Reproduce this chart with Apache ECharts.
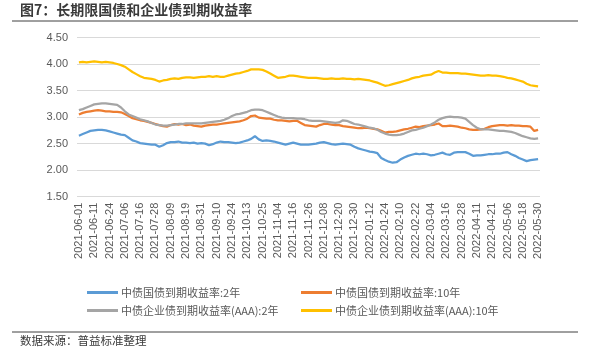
<!DOCTYPE html>
<html>
<head>
<meta charset="utf-8">
<script src="https://cdn.jsdelivr.net/npm/echarts@6/dist/echarts.min.js"></script>
<style>html,body{margin:0;padding:0;background:#fff}#c{width:590px;height:359px}</style>
</head>
<body>
<div id="c"></div>
<script>
// Exchange trading calendar: first/last day and weekday closures
var startDate = '2021-06-01';
var endDate = '2022-05-30';
var holidays = ['2021-06-14','2021-09-20','2021-09-21','2021-10-01','2021-10-04','2021-10-05','2021-10-06','2021-10-07',
  '2022-01-03','2022-01-31','2022-02-01','2022-02-02','2022-02-03','2022-02-04','2022-04-04','2022-04-05',
  '2022-05-02','2022-05-03','2022-05-04'];
var sampleStep = 2;       // one value every 2 trading days
var labelEvery = 4;       // one label every 4 samples (8 trading days)

var seriesNames = ['中债国债到期收益率:2年','中债国债到期收益率:10年','中债企业债到期收益率(AAA):2年','中债企业债到期收益率(AAA):10年'];

var gov2y = [2.65,2.68,2.71,2.74,2.75,2.76,2.76,2.75,2.73,2.71,2.69,2.67,2.66,2.61,2.56,2.54,2.51,2.50,2.49,2.48,
  2.48,2.44,2.47,2.51,2.53,2.53,2.54,2.52,2.52,2.51,2.52,2.50,2.51,2.50,2.47,2.49,2.52,2.54,2.53,2.53,
  2.52,2.51,2.52,2.54,2.56,2.59,2.64,2.58,2.55,2.56,2.55,2.54,2.52,2.50,2.48,2.50,2.52,2.50,2.48,2.48,
  2.48,2.49,2.50,2.52,2.53,2.51,2.49,2.48,2.49,2.50,2.49,2.48,2.44,2.41,2.39,2.37,2.35,2.34,2.32,2.23,
  2.19,2.16,2.14,2.15,2.20,2.24,2.27,2.29,2.31,2.30,2.31,2.30,2.28,2.29,2.31,2.33,2.30,2.29,2.33,2.34,
  2.34,2.34,2.31,2.27,2.28,2.28,2.29,2.30,2.30,2.31,2.31,2.33,2.34,2.30,2.27,2.23,2.20,2.17,2.19,2.20,2.21];
var gov10y = [3.05,3.08,3.10,3.11,3.12,3.13,3.12,3.11,3.11,3.10,3.10,3.09,3.06,3.02,2.98,2.96,2.94,2.93,2.91,2.89,
  2.87,2.85,2.83,2.82,2.85,2.87,2.86,2.87,2.85,2.86,2.84,2.83,2.82,2.84,2.85,2.86,2.86,2.87,2.88,2.89,
  2.90,2.91,2.92,2.94,2.97,3.02,3.03,2.99,2.98,2.97,2.97,2.95,2.94,2.94,2.93,2.92,2.93,2.93,2.89,2.85,
  2.84,2.83,2.82,2.85,2.87,2.87,2.86,2.85,2.85,2.83,2.82,2.81,2.80,2.79,2.79,2.80,2.79,2.78,2.77,2.74,
  2.71,2.72,2.72,2.73,2.75,2.77,2.78,2.80,2.82,2.81,2.83,2.84,2.85,2.86,2.88,2.83,2.83,2.84,2.83,2.82,
  2.80,2.79,2.77,2.76,2.76,2.77,2.78,2.81,2.83,2.84,2.85,2.85,2.84,2.85,2.84,2.84,2.83,2.83,2.82,2.74,2.76];
var corp2y = [3.13,3.15,3.18,3.21,3.24,3.25,3.26,3.26,3.25,3.24,3.23,3.18,3.11,3.05,3.02,2.99,2.96,2.94,2.92,2.89,
  2.86,2.85,2.84,2.84,2.85,2.86,2.87,2.87,2.88,2.88,2.88,2.88,2.88,2.89,2.90,2.91,2.92,2.93,2.95,2.98,
  3.02,3.05,3.06,3.08,3.10,3.13,3.14,3.14,3.13,3.10,3.07,3.04,3.01,2.99,2.98,2.98,2.98,2.97,2.97,2.96,
  2.94,2.93,2.93,2.93,2.92,2.91,2.90,2.89,2.90,2.94,2.93,2.90,2.87,2.86,2.84,2.82,2.80,2.79,2.76,2.72,
  2.69,2.67,2.66,2.66,2.67,2.69,2.72,2.75,2.76,2.78,2.80,2.83,2.86,2.90,2.95,2.98,3.00,3.01,3.00,3.00,
  2.99,2.97,2.91,2.85,2.80,2.77,2.77,2.77,2.76,2.75,2.74,2.74,2.73,2.72,2.70,2.67,2.64,2.62,2.60,2.59,2.60];
var corp10y = [4.03,4.04,4.03,4.04,4.05,4.04,4.03,4.04,4.03,4.02,4.00,3.98,3.95,3.90,3.85,3.81,3.77,3.74,3.73,3.72,
  3.70,3.67,3.69,3.70,3.72,3.73,3.72,3.74,3.75,3.75,3.74,3.75,3.76,3.76,3.77,3.76,3.77,3.76,3.76,3.78,
  3.80,3.82,3.83,3.85,3.87,3.90,3.90,3.90,3.89,3.86,3.82,3.78,3.74,3.75,3.76,3.78,3.78,3.77,3.76,3.75,
  3.74,3.74,3.74,3.73,3.72,3.72,3.73,3.72,3.72,3.73,3.72,3.72,3.71,3.72,3.71,3.70,3.69,3.67,3.65,3.62,
  3.59,3.60,3.62,3.64,3.66,3.68,3.70,3.73,3.75,3.76,3.78,3.79,3.80,3.84,3.87,3.84,3.84,3.83,3.83,3.83,
  3.82,3.82,3.81,3.80,3.79,3.78,3.78,3.79,3.78,3.78,3.77,3.76,3.74,3.73,3.71,3.69,3.67,3.63,3.60,3.59,3.58];

var yMin = 1.5, yMax = 4.5, yStep = 0.5;
var colors = ['#5B9BD5','#ED7D31','#A5A5A5','#FFC000'];

// build category dates from the calendar
function fmt(d){var m=d.getUTCMonth()+1, dd=d.getUTCDate();return d.getUTCFullYear()+'-'+(m<10?'0':'')+m+'-'+(dd<10?'0':'')+dd;}
var tradingDays = [];
(function(){
  var d = new Date(startDate+'T00:00:00Z'), e = new Date(endDate+'T00:00:00Z');
  while (d <= e) {
    var w = d.getUTCDay(), s = fmt(d);
    if (w !== 0 && w !== 6 && holidays.indexOf(s) < 0) tradingDays.push(s);
    d = new Date(d.getTime() + 86400000);
  }
})();
var categories = tradingDays.filter(function(_, i){ return i % sampleStep === 0; });

var FONT = '"Liberation Sans", Arial, "Noto Sans CJK SC", sans-serif';
var chart = echarts.init(document.getElementById('c'), null, {renderer:'canvas'});
var allData = [gov2y, gov10y, corp2y, corp10y];
var legendPos = [[82,282],[296,282],[82,300],[296,300]];

chart.setOption({
  animation:false,
  backgroundColor:'#fff',
  textStyle:{fontFamily:FONT},
  grid:{left:77, right:50, top:37.5, bottom:162.3, containLabel:false},
  xAxis:{
    type:'category', data:categories, boundaryGap:true,
    axisLine:{show:false}, axisTick:{show:false},
    axisLabel:{interval:labelEvery-1, rotate:90, fontSize:11, color:'#595959', margin:6, fontFamily:FONT}
  },
  yAxis:{
    type:'value', min:yMin, max:yMax, interval:yStep,
    axisLine:{show:false}, axisTick:{show:false},
    splitLine:{lineStyle:{color:'#D9D9D9', width:1}},
    axisLabel:{fontSize:11, color:'#595959', margin:9, formatter:function(v){return v.toFixed(2);}, fontFamily:FONT}
  },
  legend: seriesNames.map(function(n, i){
    return {data:[n], left:legendPos[i][0], top:legendPos[i][1], icon:'rect', itemWidth:31, itemHeight:3, itemGap:0,
      textStyle:{fontSize:11, color:'#595959', fontFamily:'"Noto Sans CJK SC", sans-serif', padding:[0,0,0,-2]}};
  }),
  series: seriesNames.map(function(n, i){
    return {name:n, type:'line', data:allData[i], showSymbol:false, symbol:'none', smooth:false,
      lineStyle:{color:colors[i], width:2.25}, itemStyle:{color:colors[i]}, z: (i===2?3:2)};
  }),
  graphic:[
    {type:'text', left:20, top:3, style:{text:'图7：长期限国债和企业债到期收益率', fill:'#3A3A3A', font:'bold 14px "Noto Sans CJK SC", sans-serif'}},
    {type:'line', shape:{x1:12, y1:21, x2:578, y2:21}, style:{stroke:'#404040', lineWidth:1}},
    {type:'line', shape:{x1:12, y1:332, x2:578, y2:332}, style:{stroke:'#404040', lineWidth:1}},
    {type:'text', left:20, top:335, style:{text:'数据来源：普益标准整理', fill:'#3A3A3A', font:'11.5px "Noto Sans CJK SC", sans-serif'}}
  ]
});
</script>
</body>
</html>
